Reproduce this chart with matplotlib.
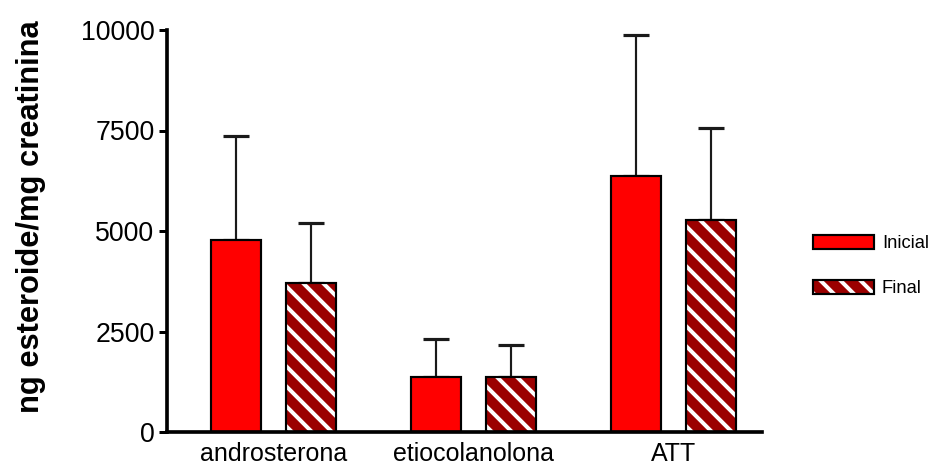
import matplotlib
matplotlib.use("Agg")
import matplotlib.pyplot as plt
import numpy as np
from matplotlib.patches import Patch
from matplotlib.legend_handler import HandlerTuple

# Urinary steroid excretion, mean + SD
categories = ["androsterona", "etiocolanolona", "ATT"]
inicial_mean = [4780, 1375, 6365]
inicial_sd = [2585, 930, 3510]
final_mean = [3705, 1375, 5275]
final_sd = [1495, 795, 2280]
yticks = [0, 2500, 5000, 7500, 10000]

RED = "#FF0000"
DARK = "#9B0000"
HATCH = "\\\\"

plt.rcParams["font.family"] = ["Liberation Sans", "DejaVu Sans"]
plt.rcParams["hatch.linewidth"] = 2.4

DPI = 120
fig = plt.figure(figsize=(935 / DPI, 466 / DPI), dpi=DPI)
ax = fig.add_axes([167 / 935, 34 / 466, 595 / 935, 402 / 466])

centers = np.arange(len(categories)) * 4.0
x_ini = centers - 0.75
x_fin = centers + 0.75
w = 1.0

err_kw = dict(fmt="none", ecolor="#1a1a1a", elinewidth=1.3, capsize=7.8,
              capthick=1.9, zorder=1)
ax.errorbar(x_ini, inicial_mean, yerr=[np.zeros(3), inicial_sd], **err_kw)
ax.errorbar(x_fin, final_mean, yerr=[np.zeros(3), final_sd], **err_kw)

ax.bar(x_ini, inicial_mean, width=w, color=RED, edgecolor="black",
       linewidth=1.3, zorder=2)
ax.bar(x_fin, final_mean, width=w, color=DARK, edgecolor="white",
       hatch=HATCH, linewidth=0, zorder=2)
ax.bar(x_fin, final_mean, width=w, fill=False, edgecolor="black",
       linewidth=1.3, zorder=3)

ax.set_xlim(-2.13, 9.77)
ax.set_ylim(0, 10000)
ax.set_yticks(yticks)
ax.set_yticklabels([str(t) for t in yticks])
ax.set_xticks(centers)
ax.set_xticklabels(categories)

for side in ("top", "right"):
    ax.spines[side].set_visible(False)
for side in ("left", "bottom"):
    ax.spines[side].set_linewidth(2.2)
ax.tick_params(axis="y", length=5, width=1.8, pad=2.5, labelsize=16)
ax.tick_params(axis="x", length=0, pad=6, labelsize=15)

ax.set_ylabel("ng esteroide/mg creatinina", fontsize=18.5, fontweight="bold")
ax.yaxis.set_label_coords(-0.203, 0.535)

h_ini = Patch(facecolor=RED, edgecolor="black", linewidth=1.3)
h_fin_fill = Patch(facecolor=DARK, edgecolor="white", hatch=HATCH, linewidth=0)
h_fin_edge = Patch(fill=False, edgecolor="black", linewidth=1.3)
fig.legend([h_ini, (h_fin_fill, h_fin_edge)], ["Inicial", "Final"],
           handler_map={tuple: HandlerTuple(ndivide=1, pad=0)},
           loc="center left", bbox_to_anchor=(813 / 935, 0.429),
           frameon=False, fontsize=11, handlelength=3.3, handleheight=0.8,
           handletextpad=0.45, labelspacing=1.5, borderpad=0, borderaxespad=0)

fig.savefig("out.png", dpi=DPI)
